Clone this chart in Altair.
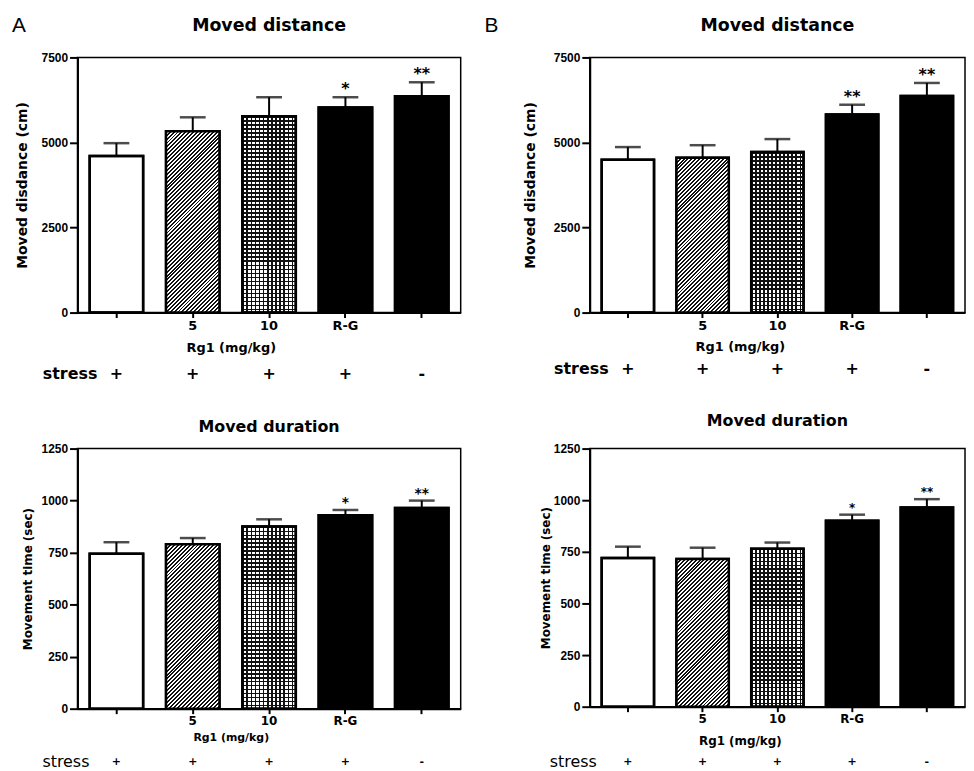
import altair as alt
import pandas as pd

# ---------------- data ----------------
groups = ["Model", "5", "10", "R-G", "Normal"]
tick_labels = ["", "5", "10", "R-G", ""]
stress_signs = ["+", "+", "+", "+", "-"]

dist_a_mean = [4600, 5330, 5770, 6030, 6360]
dist_a_sem = [380, 410, 560, 300, 410]
dist_a_sig = ["", "", "", "*", "**"]

dist_b_mean = [4490, 4550, 4720, 5820, 6370]
dist_b_sem = [375, 370, 380, 290, 380]
dist_b_sig = ["", "", "", "**", "**"]

dur_a_mean = [745, 790, 875, 930, 965]
dur_a_sem = [55, 30, 35, 25, 35]
dur_a_sig = ["", "", "", "*", "**"]

dur_b_mean = [720, 715, 765, 900, 965]
dur_b_sem = [55, 55, 30, 30, 40]
dur_b_sig = ["", "", "", "*", "**"]

dist_ticks = [0, 2500, 5000, 7500]
dur_ticks = [0, 250, 500, 750, 1000, 1250]

# ---------------- styles ----------------
bar_fills = ["white", "white", "white", "black", "black"]
PI, PO = 0.3, 0.16
DJ = "DejaVu Sans"
LB = "Liberation Sans"


def hatch_fill(bw, bh, spacing=4.0, ink=0.5):
    r = bh / bw
    a = (1 + r) / (1 + r * r)
    n = int((bw + bh) / spacing) + 1
    stops = []
    for k in range(n):
        t0, t1, t2 = k / n, (k + ink) / n, (k + 1) / n
        stops += [
            alt.GradientStop(color="#111111", offset=t0),
            alt.GradientStop(color="#111111", offset=t1),
            alt.GradientStop(color="white", offset=t1),
            alt.GradientStop(color="white", offset=t2),
        ]
    return alt.LinearGradient(gradient="linear", x1=0, y1=0, x2=a, y2=a * r, stops=stops)


def line_fill(length, vertical_lines, period=4.0, ink=0.38):
    n = max(1, int(round(length / period)))
    stops = []
    for k in range(n):
        t0, t1, t2 = k / n, (k + ink) / n, (k + 1) / n
        stops += [
            alt.GradientStop(color="#111111", offset=t0),
            alt.GradientStop(color="#111111", offset=t1),
            alt.GradientStop(color="rgba(255,255,255,0)", offset=t1),
            alt.GradientStop(color="rgba(255,255,255,0)", offset=t2),
        ]
    if vertical_lines:
        return alt.LinearGradient(gradient="linear", x1=0, y1=0, x2=1, y2=0, stops=stops)
    return alt.LinearGradient(gradient="linear", x1=0, y1=0, x2=0, y2=1, stops=stops)


label_expr = "[" + ",".join("'%s'" % t for t in tick_labels) + "][indexof([" + \
    ",".join("'%s'" % g for g in groups) + "], datum.value)]"


def text_layer(txt, x, y, **kw):
    return alt.Chart(pd.DataFrame({"t": [txt]})).mark_text(color="black", **kw).encode(
        x=alt.value(x), y=alt.value(y), text="t:N")


def panel(means, sems, sigs, ymax, ticks, c):
    W, H = c["w"], c["h"]
    df = pd.DataFrame({
        "group": groups,
        "mean": means,
        "top": [m + s for m, s in zip(means, sems)],
        "sig": sigs,
        "stress": stress_signs,
        "fill": bar_fills,
    })
    xs = alt.Scale(domain=groups, paddingInner=PI, paddingOuter=PO)
    x_main = alt.X("group:N", sort=groups, scale=xs, axis=alt.Axis(
        labelExpr=label_expr, labelAngle=0, tickSize=5, tickWidth=2, domainWidth=2, grid=False,
        domainColor="black", tickColor="black", labelColor="black", titleColor="black",
        labelFont=DJ, labelFontWeight="bold", labelFontSize=c["xlabel_size"], labelPadding=2,
        title="Rg1 (mg/kg)", titleX=W * 0.4, titleFont=DJ, titleFontWeight="bold",
        titleFontSize=c["xtitle_size"], titlePadding=c["xtitle_pad"]))
    y_main = alt.Y("mean:Q", scale=alt.Scale(domain=[0, ymax], nice=False, zero=True), axis=alt.Axis(
        values=ticks, format="d", tickSize=8, tickWidth=2, domainWidth=2, labelPadding=2, grid=False,
        domainColor="black", tickColor="black", labelColor="black", titleColor="black",
        labelFont=LB, labelFontWeight="bold", labelFontSize=c["ylabel_size"],
        title=c["ytitle"], titleFont=DJ, titleFontWeight="bold", titleFontSize=c["ytitle_size"],
        titlePadding=c["ytitle_pad"]))
    x = alt.X("group:N", sort=groups)
    base = alt.Chart(df)

    bars = base.mark_bar(stroke="black", strokeWidth=2.5).encode(
        x=x_main, y=y_main, fill=alt.Fill("fill:N", scale=None))

    step = W / (5 - PI + 2 * PO)
    bw = step * (1 - PI)
    h2 = means[1] / ymax * H
    h3 = means[2] / ymax * H
    hatch = base.transform_filter(alt.datum.group == groups[1]).mark_bar(
        fill=hatch_fill(bw, h2)).encode(x=x, y="mean:Q")
    gridv = base.transform_filter(alt.datum.group == groups[2]).mark_bar(
        fill=line_fill(bw, True)).encode(x=x, y="mean:Q")
    gridh = base.transform_filter(alt.datum.group == groups[2]).mark_bar(
        fill=line_fill(h3, False)).encode(x=x, y="mean:Q")
    outline = base.mark_bar(fillOpacity=0, stroke="black", strokeWidth=2.5).encode(x=x, y="mean:Q")

    err = base.mark_rule(color="black", strokeWidth=2).encode(x=x, y="mean:Q", y2="top:Q")
    cap = base.mark_tick(color="black", size=26, thickness=2.5).encode(x=x, y="top:Q")
    stars = base.mark_text(font=DJ, fontWeight="bold", fontSize=c["star_size"], dy=-3,
                           baseline="alphabetic", color="black").encode(x=x, y="top:Q", text="sig:N")

    signs = base.mark_text(font=DJ, fontWeight="bold", fontSize=c["sign_size"], baseline="middle",
                           color="black").encode(x=x, y=alt.value(H + c["stress_off"]), text="stress:N")
    stress_lbl = text_layer("stress", c["stress_right"], H + c["stress_off"], font=DJ,
                            fontWeight=c["stress_weight"], fontSize=16, align="right", baseline="middle")
    title = text_layer(c["title"], W / 2, c["title_y"], font=DJ, fontWeight="bold",
                       fontSize=c["title_size"], align="center", baseline="middle")

    layers = [bars, hatch, gridv, gridh, outline, err, cap, stars, signs, stress_lbl, title]
    if c.get("letter"):
        layers.append(text_layer(c["letter"], c["letter_x"], c["letter_y"], font=LB, fontSize=21,
                                 align="center", baseline="middle"))

    return alt.layer(*layers).properties(width=W, height=H)


cA1 = dict(w=386, h=257, letter="A", letter_x=-59, letter_y=-32, title="Moved distance", title_size=17.5,
           title_y=-32, ytitle="Moved disdance (cm)", ytitle_size=14, ytitle_pad=12, ylabel_size=12,
           xlabel_size=13, xtitle_size=13, xtitle_pad=9, stress_off=62, stress_right=20,
           stress_weight="bold", sign_size=16, star_size=16)
cB1 = dict(w=378, h=257, letter="B", letter_x=-99, letter_y=-32, title="Moved distance", title_size=17.5,
           title_y=-32, ytitle="Moved disdance (cm)", ytitle_size=14, ytitle_pad=16, ylabel_size=12,
           xlabel_size=13, xtitle_size=13, xtitle_pad=8, stress_off=57, stress_right=19,
           stress_weight="bold", sign_size=16, star_size=16)
cA2 = dict(w=386, h=262, title="Moved duration", title_size=16, title_y=-22,
           ytitle="Movement time (sec)", ytitle_size=12, ytitle_pad=7, ylabel_size=12,
           xlabel_size=12, xtitle_size=11, xtitle_pad=5, stress_off=54, stress_right=12,
           stress_weight="normal", sign_size=11, star_size=14)
cB2 = dict(w=378, h=260, title="Moved duration", title_size=16, title_y=-28,
           ytitle="Movement time (sec)", ytitle_size=12, ytitle_pad=1, ylabel_size=12,
           xlabel_size=12, xtitle_size=12, xtitle_pad=11, stress_off=56, stress_right=7,
           stress_weight="normal", sign_size=11, star_size=12)

pA1 = panel(dist_a_mean, dist_a_sem, dist_a_sig, 7500, dist_ticks, cA1)
pB1 = panel(dist_b_mean, dist_b_sem, dist_b_sig, 7500, dist_ticks, cB1)
pA2 = panel(dur_a_mean, dur_a_sem, dur_a_sig, 1250, dur_ticks, cA2)
pB2 = panel(dur_b_mean, dur_b_sem, dur_b_sig, 1250, dur_ticks, cB2)

chart = alt.concat(pA1, pB1, pA2, pB2, columns=2, spacing={"row": 29, "column": 22}, align="each").properties(
    padding={"left": 3, "top": 3, "right": 0, "bottom": 0}, background="white"
).configure_view(stroke="black", strokeWidth=1.5)

chart.save("out.html", embed_options={"renderer": "svg", "actions": False})
